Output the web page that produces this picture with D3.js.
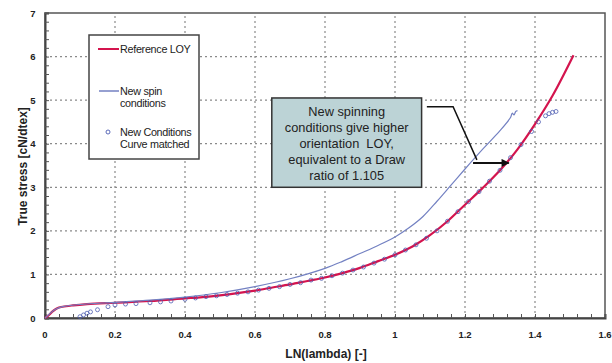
<!DOCTYPE html>
<html>
<head>
<meta charset="utf-8">
<script src="https://cdn.jsdelivr.net/npm/d3@7"></script>
<style>
  body { margin: 0; background: #fff; }
  svg text { font-family: "Liberation Sans", Arial, sans-serif; }
</style>
</head>
<body>
<svg id="chart" width="612" height="363"></svg>
<script>
const width = 612;
const height = 363;
const margin = { top: 13, right: 7, bottom: 45, left: 45 };

// Reference LOY curve (red)
const refX = [0, 0.01, 0.02, 0.03, 0.04, 0.06, 0.08, 0.12, 0.2, 0.3, 0.4, 0.45, 0.5, 0.55, 0.6, 0.65, 0.7, 0.75, 0.8, 0.85, 0.9, 0.95, 1.0, 1.05, 1.1, 1.15, 1.2, 1.25, 1.3, 1.35, 1.4, 1.45, 1.51];
const refY = [0, 0.06, 0.14, 0.2, 0.24, 0.27, 0.29, 0.32, 0.35, 0.39, 0.45, 0.48, 0.52, 0.57, 0.63, 0.7, 0.77, 0.85, 0.93, 1.03, 1.15, 1.3, 1.45, 1.64, 1.9, 2.22, 2.6, 2.98, 3.39, 3.87, 4.45, 5.1, 6.03];

// New spin conditions (thin blue line)
const spinX = [0, 0.03, 0.05, 0.1, 0.2, 0.3, 0.4, 0.5, 0.6, 0.7, 0.8, 0.85, 0.9, 0.95, 1.0, 1.04, 1.08, 1.12, 1.16, 1.2, 1.25, 1.3, 1.33, 1.335, 1.34, 1.345, 1.35];
const spinY = [0, 0.2, 0.26, 0.31, 0.36, 0.41, 0.48, 0.58, 0.72, 0.9, 1.14, 1.3, 1.48, 1.66, 1.86, 2.07, 2.33, 2.68, 3.05, 3.42, 3.87, 4.3, 4.6, 4.7, 4.66, 4.74, 4.76];

// New conditions, curve matched (circles)
const matchX = [0.1, 0.11, 0.12, 0.13, 0.15, 0.18, 0.2, 0.23, 0.26, 0.3, 0.33, 0.36, 0.4, 0.43, 0.46, 0.49, 0.52, 0.55, 0.58, 0.61, 0.64, 0.67, 0.7, 0.73, 0.76, 0.79, 0.82, 0.85, 0.88, 0.91, 0.94, 0.97, 1.0, 1.03, 1.06, 1.09, 1.12, 1.15, 1.18, 1.21, 1.24, 1.27, 1.3, 1.33, 1.36, 1.39, 1.41, 1.43, 1.44, 1.45, 1.46];
const matchY = [0.03, 0.07, 0.11, 0.14, 0.19, 0.26, 0.3, 0.32, 0.33, 0.35, 0.37, 0.39, 0.43, 0.46, 0.49, 0.51, 0.54, 0.57, 0.6, 0.64, 0.68, 0.72, 0.77, 0.81, 0.87, 0.91, 0.97, 1.03, 1.1, 1.17, 1.26, 1.35, 1.45, 1.56, 1.68, 1.83, 2.0, 2.22, 2.44, 2.67, 2.9, 3.14, 3.39, 3.68, 3.98, 4.28, 4.5, 4.64, 4.69, 4.72, 4.74];

const xTicks = [0, 0.2, 0.4, 0.6, 0.8, 1, 1.2, 1.4, 1.6];
const yTicks = [0, 1, 2, 3, 4, 5, 6, 7];
const noteLines = ["New spinning", "conditions give higher", "orientation  LOY,", "equivalent to a Draw", "ratio of 1.105"];

const redColor = "#d4144e";
const blueLine = "#7381c2";
const circleColor = "#4a5ab0";

const svg = d3.select("#chart");
const x = d3.scaleLinear().domain([0, 1.6]).range([margin.left, width - margin.right]);
const y = d3.scaleLinear().domain([0, 7]).range([height - margin.bottom, margin.top]);

// grid
svg.append("g")
  .selectAll("line")
  .data(xTicks.slice(1, -1))
  .enter().append("line")
  .attr("x1", d => x(d)).attr("x2", d => x(d))
  .attr("y1", y(0)).attr("y2", y(7))
  .attr("stroke", "#8a8a8a").attr("stroke-width", 1.2)
  .attr("stroke-dasharray", "2,3");

svg.append("g")
  .selectAll("line")
  .data(yTicks.slice(1, -1))
  .enter().append("line")
  .attr("x1", x(0)).attr("x2", x(1.6))
  .attr("y1", d => y(d)).attr("y2", d => y(d))
  .attr("stroke", "#8a8a8a").attr("stroke-width", 1.2)
  .attr("stroke-dasharray", "2,3");

// frame
svg.append("rect")
  .attr("x", x(0)).attr("y", y(7))
  .attr("width", x(1.6) - x(0)).attr("height", y(0) - y(7))
  .attr("fill", "none").attr("stroke", "#555").attr("stroke-width", 1.5);

// axes
const xAxis = svg.append("g")
  .attr("transform", `translate(0,${y(0)})`)
  .call(d3.axisBottom(x).tickValues(d3.range(0, 1.6001, 0.04)).tickSize(-4).tickFormat(""));
xAxis.select(".domain").attr("stroke", "#444").attr("stroke-width", 2);
xAxis.selectAll("line").attr("stroke", "#555");

svg.append("g")
  .selectAll("text")
  .data(xTicks)
  .enter().append("text")
  .attr("x", d => x(d)).attr("y", y(0) + 20)
  .attr("text-anchor", "middle")
  .attr("font-size", 9.5).attr("font-weight", "bold").attr("fill", "#222")
  .text(d => d);

const yAxis = svg.append("g")
  .attr("transform", `translate(${x(0)},0)`)
  .call(d3.axisLeft(y).tickValues(d3.range(0, 7.001, 0.2)).tickSize(-4).tickFormat(""));
yAxis.select(".domain").attr("stroke", "#444").attr("stroke-width", 2);
yAxis.selectAll("line").attr("stroke", "#555");

svg.append("g")
  .selectAll("text")
  .data(yTicks)
  .enter().append("text")
  .attr("x", x(0) - 12).attr("y", d => y(d) + 3.5)
  .attr("text-anchor", "middle")
  .attr("font-size", 9.5).attr("font-weight", "bold").attr("fill", "#222")
  .text(d => d);

// axis titles
svg.append("text")
  .attr("transform", `translate(27,${(y(0) + y(7)) / 2 + 1}) rotate(-90)`)
  .attr("text-anchor", "middle")
  .attr("font-size", 12).attr("font-weight", "bold").attr("fill", "#222")
  .text("True stress [cN/dtex]");

svg.append("text")
  .attr("x", 326).attr("y", 358)
  .attr("text-anchor", "middle")
  .attr("font-size", 12).attr("font-weight", "bold").attr("fill", "#222")
  .text("LN(lambda) [-]");

// series
const line = d3.line().x(d => x(d[0])).y(d => y(d[1])).curve(d3.curveMonotoneX);

svg.append("path")
  .datum(refX.map((v, i) => [v, refY[i]]))
  .attr("d", line)
  .attr("fill", "none").attr("stroke", redColor).attr("stroke-width", 2.2);

svg.append("path")
  .datum(spinX.map((v, i) => [v, spinY[i]]))
  .attr("d", d3.line().x(d => x(d[0])).y(d => y(d[1])).curve(d3.curveCatmullRom))
  .attr("fill", "none").attr("stroke", blueLine).attr("stroke-width", 1.2);

svg.append("g")
  .selectAll("circle")
  .data(matchX.map((v, i) => [v, matchY[i]]))
  .enter().append("circle")
  .attr("cx", d => x(d[0])).attr("cy", d => y(d[1]))
  .attr("r", 2)
  .attr("fill", "none").attr("stroke", circleColor).attr("stroke-width", 0.9)
  .attr("opacity", 0.85);

// legend
const lg = svg.append("g");
lg.append("rect")
  .attr("x", 89).attr("y", 35).attr("width", 110).attr("height", 124)
  .attr("fill", "#fff").attr("stroke", "#444").attr("stroke-width", 1.5);
lg.append("line").attr("x1", 98).attr("x2", 119).attr("y1", 49).attr("y2", 49)
  .attr("stroke", redColor).attr("stroke-width", 2);
const legendText = (tx, ty, s) => lg.append("text")
  .attr("x", tx).attr("y", ty).attr("font-size", 10.8)
  .attr("letter-spacing", -0.3).attr("fill", "#222").text(s);
legendText(120, 53, "Reference LOY");
lg.append("line").attr("x1", 99).attr("x2", 119).attr("y1", 91).attr("y2", 91)
  .attr("stroke", blueLine).attr("stroke-width", 1.5);
legendText(120, 95, "New spin");
legendText(120, 107, "conditions");
lg.append("circle").attr("cx", 108).attr("cy", 132).attr("r", 2)
  .attr("fill", "none").attr("stroke", circleColor).attr("stroke-width", 0.9);
legendText(120, 136, "New Conditions");
legendText(120, 148, "Curve matched");

// annotation box
const note = svg.append("g");
note.append("rect")
  .attr("x", x(0.648)).attr("y", y(5.05))
  .attr("width", x(1.076) - x(0.648)).attr("height", y(3.0) - y(5.05))
  .attr("fill", "#bcd3d6").attr("stroke", "#333").attr("stroke-width", 1.5);
note.selectAll("text.note")
  .data(noteLines)
  .enter().append("text")
  .attr("class", "note")
  .attr("x", (x(0.648) + x(1.076)) / 2)
  .attr("y", (d, i) => y(5.05) + 18 + i * 16)
  .attr("text-anchor", "middle")
  .style("white-space", "pre")
  .attr("font-size", 12.8).attr("fill", "#222")
  .text(d => d);

svg.append("defs").append("marker")
  .attr("id", "arrow").attr("viewBox", "0 0 10 10")
  .attr("refX", 9).attr("refY", 5)
  .attr("markerWidth", 5).attr("markerHeight", 4)
  .attr("markerUnits", "strokeWidth")
  .attr("orient", "auto")
  .append("path").attr("d", "M0,0L10,5L0,10z").attr("fill", "#111");

svg.append("path")
  .attr("d", d3.line()([[x(1.091), y(4.85)], [x(1.166), y(4.85)], [x(1.234), y(3.63)]]))
  .attr("fill", "none").attr("stroke", "#111").attr("stroke-width", 1.5);

svg.append("line")
  .attr("x1", x(1.223)).attr("y1", y(3.56))
  .attr("x2", x(1.325)).attr("y2", y(3.56))
  .attr("stroke", "#111").attr("stroke-width", 2)
  .attr("marker-end", "url(#arrow)");
</script>
</body>
</html>
